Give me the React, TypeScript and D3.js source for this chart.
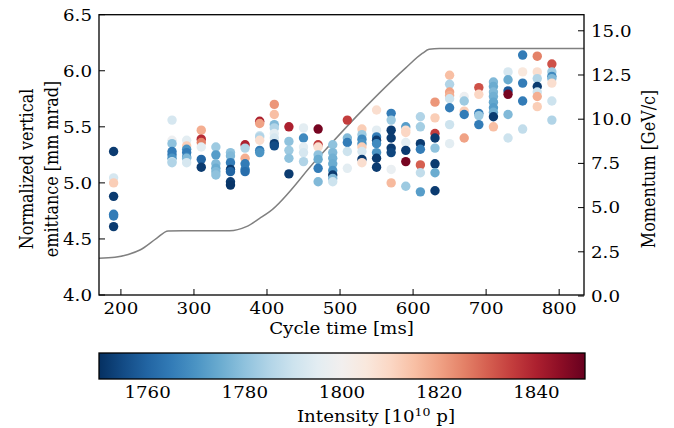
import React from "react";
import * as d3 from "d3";

// ---- data ----
const cycleTimes = [190, 270, 290, 310, 330, 350, 370, 390, 410, 430, 450, 470, 490, 510, 530, 550, 570, 590, 610, 630, 650, 670, 690, 710, 730, 750, 770, 790];

// emittance values [mm mrad] per cycle time column
const emittances: number[][] = [
  [5.28, 5.045, 5.0, 4.88, 4.72, 4.705, 4.61],
  [5.56, 5.38, 5.35, 5.28, 5.25, 5.22, 5.19, 5.18],
  [5.38, 5.33, 5.3, 5.27, 5.23, 5.22, 5.18],
  [5.47, 5.39, 5.36, 5.32, 5.21, 5.14],
  [5.32, 5.25, 5.17, 5.13, 5.1, 5.07],
  [5.27, 5.24, 5.18, 5.12, 5.1, 5.01, 4.98],
  [5.34, 5.31, 5.22, 5.17, 5.12, 5.1],
  [5.55, 5.53, 5.42, 5.41, 5.38, 5.29, 5.27],
  [5.7, 5.61, 5.52, 5.49, 5.44, 5.4, 5.35, 5.33],
  [5.5, 5.37, 5.29, 5.22, 5.08],
  [5.49, 5.4, 5.32, 5.27, 5.19],
  [5.48, 5.34, 5.32, 5.25, 5.21, 5.13, 5.01],
  [5.34, 5.27, 5.22, 5.17, 5.11, 5.07, 5.04, 5.01],
  [5.56, 5.4, 5.36, 5.28, 5.13],
  [5.48, 5.43, 5.39, 5.35, 5.32, 5.28, 5.21, 5.18],
  [5.65, 5.47, 5.41, 5.38, 5.35, 5.27, 5.22, 5.14],
  [5.62, 5.56, 5.47, 5.4, 5.31, 5.27, 5.12, 5.0],
  [5.5, 5.47, 5.45, 5.36, 5.29, 5.19, 4.97],
  [5.59, 5.5, 5.35, 5.3, 5.16, 5.09, 4.92],
  [5.72, 5.58, 5.44, 5.4, 5.31, 5.17, 5.09, 4.93],
  [5.96, 5.88, 5.81, 5.78, 5.75, 5.67, 5.52, 5.35],
  [5.77, 5.73, 5.64, 5.61, 5.4],
  [5.85, 5.79, 5.62, 5.6, 5.52],
  [5.9, 5.86, 5.81, 5.77, 5.72, 5.67, 5.63, 5.59, 5.5],
  [5.99, 5.92, 5.82, 5.79, 5.61, 5.4],
  [6.14, 5.99, 5.89, 5.73, 5.48],
  [6.13, 5.99, 5.93, 5.86, 5.81, 5.77, 5.68],
  [6.06, 5.99, 5.95, 5.93, 5.89, 5.73, 5.56],
];

// intensity values [1e10 p] matching emittances
const intensities: number[][] = [
  [1752, 1792, 1812, 1752, 1765, 1765, 1752],
  [1792, 1798, 1780, 1765, 1765, 1770, 1790, 1785],
  [1795, 1812, 1770, 1765, 1768, 1778, 1792],
  [1818, 1838, 1825, 1795, 1760, 1752],
  [1782, 1772, 1778, 1775, 1778, 1780],
  [1780, 1778, 1765, 1752, 1760, 1752, 1751],
  [1840, 1785, 1818, 1765, 1765, 1762],
  [1840, 1820, 1790, 1785, 1808, 1765, 1770],
  [1822, 1815, 1778, 1785, 1795, 1792, 1752, 1755],
  [1840, 1780, 1782, 1780, 1752],
  [1795, 1768, 1795, 1792, 1785],
  [1848, 1835, 1808, 1780, 1775, 1765, 1778],
  [1780, 1778, 1776, 1775, 1770, 1752, 1778, 1790],
  [1835, 1778, 1765, 1790, 1795],
  [1812, 1782, 1768, 1770, 1812, 1792, 1752, 1808],
  [1808, 1795, 1765, 1752, 1768, 1770, 1752, 1752],
  [1765, 1782, 1752, 1752, 1752, 1754, 1797, 1816],
  [1772, 1808, 1810, 1795, 1752, 1848, 1782],
  [1785, 1783, 1752, 1765, 1830, 1788, 1772],
  [1822, 1812, 1835, 1752, 1780, 1752, 1775, 1752],
  [1815, 1785, 1820, 1818, 1790, 1765, 1790, 1795],
  [1798, 1782, 1812, 1765, 1820],
  [1832, 1810, 1765, 1782, 1765],
  [1778, 1775, 1778, 1776, 1774, 1772, 1776, 1752, 1815],
  [1792, 1775, 1758, 1848, 1778, 1790],
  [1765, 1805, 1765, 1765, 1788],
  [1825, 1808, 1785, 1752, 1790, 1818, 1812],
  [1832, 1782, 1768, 1778, 1808, 1790, 1785],
];

// momentum ramp [ms, GeV/c]
const momentumTime = [170, 191.8, 210, 226, 248.8, 264.6, 284.7, 348.9, 371.7, 389.9, 403.6, 467.3, 526.5, 590, 613, 622, 635.8, 834];
const momentumValue = [2.14, 2.19, 2.35, 2.6, 3.26, 3.68, 3.69, 3.69, 3.92, 4.39, 4.77, 7.69, 10.33, 12.9, 13.73, 13.95, 14.0, 14.0];

const xTicks = [200, 300, 400, 500, 600, 700, 800];
const yTicks = [4.0, 4.5, 5.0, 5.5, 6.0, 6.5];
const y2Ticks = [0.0, 2.5, 5.0, 7.5, 10.0, 12.5, 15.0];
const cTicks = [1760, 1780, 1800, 1820, 1840];
const cDomain = [1750, 1850];

const W = 674, H = 428;
const plot = { left: 99, right: 584, top: 14.7, bottom: 295 };
const cbar = { left: 99, right: 585, top: 353, bottom: 379 };
const FONT = "'DejaVu Serif', serif";
const FS = 16;
const SX = 1.14;

function T({ x, y, anchor = "middle", rot = false, children }: any) {
  const tf = `translate(${x},${y}) scale(${SX},1)` + (rot ? " rotate(-90)" : "");
  return (
    <text transform={tf} fontSize={FS} textAnchor={anchor}>
      {children}
    </text>
  );
}

export default function App() {
  const x = d3.scaleLinear().domain([170, 834]).range([plot.left, plot.right]);
  const y = d3.scaleLinear().domain([4, 6.5]).range([plot.bottom, plot.top]);
  const y2 = d3.scaleLinear().domain([0, 15.91]).range([plot.bottom + 1, plot.top]);
  const color = d3.scaleSequential((t: number) => d3.interpolateRdBu(1 - t)).domain(cDomain as [number, number]);
  const cx = d3.scaleLinear().domain(cDomain).range([cbar.left, cbar.right]);

  const line = d3
    .line<number>()
    .x((_, i) => x(momentumTime[i]))
    .y((d) => y2(d))
    .curve(d3.curveMonotoneX);

  const points: { t: number; e: number; c: number }[] = [];
  cycleTimes.forEach((t, i) => {
    emittances[i].forEach((e, j) => points.push({ t, e, c: intensities[i][j] }));
  });

  const stops = d3.range(0, 1.0001, 0.05);
  const tickLen = 6;
  const vMid = 169;

  return (
    <svg width={W} height={H} style={{ position: "absolute", left: 0, top: 0, background: "#fff" }} fontFamily={FONT}>
      <defs>
        <linearGradient id="cb" x1="0" x2="1" y1="0" y2="0">
          {stops.map((s) => (
            <stop key={s} offset={s} stopColor={color(cDomain[0] + s * (cDomain[1] - cDomain[0]))} />
          ))}
        </linearGradient>
        <clipPath id="pc">
          <rect x={plot.left} y={plot.top} width={plot.right - plot.left} height={plot.bottom - plot.top} />
        </clipPath>
      </defs>

      {/* momentum line */}
      <path d={line(momentumValue) || ""} fill="none" stroke="#808080" strokeWidth={1.5} clipPath="url(#pc)" />

      {/* scatter */}
      {points.map((p, i) => (
        <circle key={i} cx={x(p.t)} cy={y(p.e)} r={4.7} fill={color(p.c)} />
      ))}

      {/* spines */}
      <rect x={plot.left} y={plot.top} width={plot.right - plot.left} height={plot.bottom - plot.top} fill="none" stroke="#000" strokeWidth={1.3} />

      {xTicks.map((t) => (
        <g key={t}>
          <line x1={x(t)} x2={x(t)} y1={plot.bottom} y2={plot.bottom - tickLen} stroke="#000" strokeWidth={1} />
          <T x={x(t)} y={313.5}>{t}</T>
        </g>
      ))}
      {yTicks.map((t) => (
        <g key={t}>
          <line x1={plot.left} x2={plot.left + tickLen} y1={y(t)} y2={y(t)} stroke="#000" strokeWidth={1} />
          <T x={plot.left - 7} y={y(t) + 5.8} anchor="end">{t.toFixed(1)}</T>
        </g>
      ))}
      {y2Ticks.map((t) => (
        <g key={t}>
          <line x1={plot.right} x2={plot.right - tickLen} y1={y2(t)} y2={y2(t)} stroke="#000" strokeWidth={1} />
          <T x={plot.right + 7} y={y2(t) + 5.8} anchor="start">{t.toFixed(1)}</T>
        </g>
      ))}

      <T x={(plot.left + plot.right) / 2} y={334}>Cycle time [ms]</T>
      <T x={33} y={vMid} rot>Normalized vertical</T>
      <T x={58} y={vMid} rot>emittance [mm mrad]</T>
      <T x={655} y={vMid} rot>Momentum [GeV/c]</T>

      {/* colorbar */}
      <rect x={cbar.left} y={cbar.top} width={cbar.right - cbar.left} height={cbar.bottom - cbar.top} fill="url(#cb)" stroke="#000" strokeWidth={1.3} />
      {cTicks.map((t) => (
        <T key={t} x={cx(t)} y={398.3}>{t}</T>
      ))}
      <T x={376} y={421.5}>
        Intensity [10<tspan dy="-6" fontSize={11}>10</tspan><tspan dy="6"> p]</tspan>
      </T>
    </svg>
  );
}
